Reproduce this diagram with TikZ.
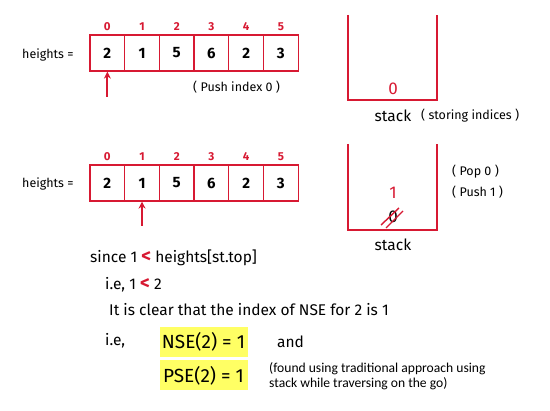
\documentclass[tikz,border=0pt]{standalone}
\usepackage{fontspec}
\setmainfont{Fira Sans}
\newfontfamily\notefont{Carlito}
\usetikzlibrary{arrows.meta}
\definecolor{myred}{RGB}{215,25,50}
\definecolor{hl}{RGB}{255,255,100}
\newcommand{\redlt}{\textcolor{myred}{\fontsize{19}{15.5}\selectfont\bfseries <}}
\tikzset{
  cell/.style={draw=myred, line width=1.3pt, minimum width=34.7pt, minimum height=36pt, inner sep=0pt, font=\fontsize{15}{15}\selectfont\bfseries},
  idx/.style={text=myred, font=\fontsize{11.5}{11.5}\selectfont\bfseries, inner sep=0pt},
  lbl/.style={font=\fontsize{12.5}{12.5}\selectfont, inner sep=0pt},
  wall/.style={draw=myred, line width=2.6pt},
  ptr/.style={draw=myred, line width=2pt, -{Stealth[length=7pt,width=7pt]}},
  body/.style={font=\fontsize{15.5}{15.5}\selectfont, inner sep=0pt, anchor=west},
  hlbox/.style={fill=hl, minimum width=88pt, minimum height=30pt, inner sep=0pt, font=\fontsize{19}{19}\selectfont},
  note/.style={font=\fontsize{13.6}{15}\selectfont\notefont, inner sep=0pt, anchor=west, align=left}
}
\begin{document}
\begin{tikzpicture}[x=1pt,y=-1pt]
\useasboundingbox (0,0) rectangle (550,411);
% ---------- row 1 ----------
\node[lbl, anchor=west] (h1) at (22,55) {heights =};
\foreach \i/\v in {0/2,1/1,2/5,3/6,4/2,5/3}{
  \node[cell] (a\i) at ({107.35+34.7*\i},53) {\v};
  \node[idx] (ai\i) at ({107.35+34.7*\i},27) {\i};
}
\coordinate (p1) at (107.35,97);
\draw[ptr] (p1) -- (a0.south);
\node[lbl, anchor=west] (push0) at (193,87) {( Push index 0 )};
% stack 1
\coordinate (s1tl) at (348,15);
\coordinate (s1bl) at (348,100);
\coordinate (s1br) at (437,100);
\coordinate (s1tr) at (437,15);
\draw[wall] (s1tl) -- (s1bl) -- (s1br) -- (s1tr);
\node[text=myred, font=\fontsize{17}{17}\selectfont, inner sep=0pt] (s1v) at (393,89) {0};
\node[font=\fontsize{15.5}{15.5}\selectfont, inner sep=0pt] (st1) at (393,116) {stack};
\node[lbl, anchor=west] (si) at (421,116) {( storing indices )};
% ---------- row 2 ----------
\node[lbl, anchor=west] (h2) at (22,184) {heights =};
\foreach \i/\v in {0/2,1/1,2/5,3/6,4/2,5/3}{
  \node[cell] (b\i) at ({107.35+34.7*\i},183) {\v};
  \node[idx] (bi\i) at ({107.35+34.7*\i},157) {\i};
}
\coordinate (p2) at (142.05,226);
\draw[ptr] (p2) -- (b1.south);
% stack 2
\coordinate (s2tl) at (348,144);
\coordinate (s2bl) at (348,230);
\coordinate (s2br) at (437,230);
\coordinate (s2tr) at (437,144);
\draw[wall] (s2tl) -- (s2bl) -- (s2br) -- (s2tr);
\node[text=myred, font=\fontsize{17}{17}\selectfont, inner sep=0pt] (s2v) at (393,193) {1};
\node[font=\fontsize{17}{17}\selectfont, inner sep=0pt] (s2o) at (393,217) {0};
\coordinate (x1a) at (381,225);
\coordinate (x1b) at (399,208);
\coordinate (x2a) at (386,228);
\coordinate (x2b) at (403,211);
\draw[myred, line width=1.4pt] (x1a) -- (x1b);
\draw[myred, line width=1.4pt] (x2a) -- (x2b);
\node[font=\fontsize{15.5}{15.5}\selectfont, inner sep=0pt] (st2) at (393,245) {stack};
\node[lbl, anchor=west] (pop0) at (452,172) {( Pop 0 )};
\node[lbl, anchor=west] (push1) at (452,192) {( Push 1 )};
% ---------- text ----------
\node[body] (t1) at (90,258) {since 1 \redlt{} heights[st.top]};
\node[body] (t2) at (105,285) {i.e, 1 \redlt{} 2};
\node[body] (t3) at (109,310) {It is clear that the index of NSE for 2 is 1};
\node[body] (t4) at (105,341) {i.e,};
\node[hlbox] (nse) at (203.5,342) {NSE(2) = 1};
\node[body] (and) at (277,342) {and};
\node[hlbox] (pse) at (203.5,375.5) {PSE(2) = 1};
\node[note] (nt) at (269,376) {(found using traditional approach using\\stack while traversing on the go)};
\end{tikzpicture}
\end{document}
